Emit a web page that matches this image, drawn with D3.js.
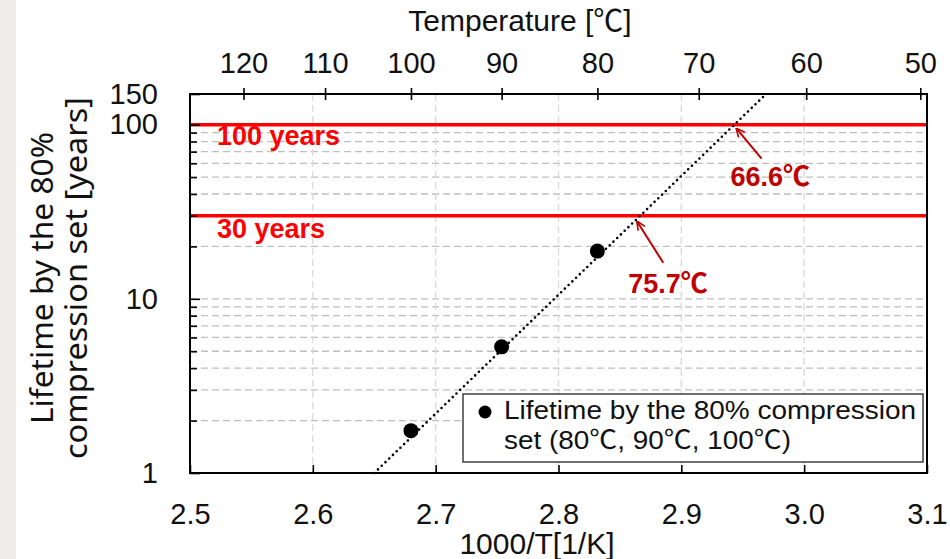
<!DOCTYPE html>
<html><head><meta charset="utf-8">
<script src="https://cdn.jsdelivr.net/npm/d3@7"></script>
<style>body{margin:0;background:#fff} svg{display:block}</style>
</head><body><svg id="c" width="950" height="559"></svg>
<script>
// ---- data ----
const tempTicksC = [120, 110, 100, 90, 80, 70, 60, 50];
const xTicks = [2.5, 2.6, 2.7, 2.8, 2.9, 3.0, 3.1];
const yMajorTicks = [1, 10, 100, 150];
const pointTempsC = [100, 90, 80];
const lifetimeYears = [1.75, 5.3, 18.8];
const fitX = [2.650, 2.969];
const fitYears = [1, 150];
const thresholdYears = [100, 30];
const thresholdLabels = ["100 years", "30 years"];
const crossTempsC = [66.6, 75.7];

const invT = c => 1000 / (c + 273.15);

const svg = d3.select("#c");
const W = 950, H = 559;
const L = 190, R = 927, T = 94, B = 473;
const x = d3.scaleLinear().domain([2.5, 3.1]).range([L, R]);
const y = d3.scaleLog().domain([1, 150]).range([B, T]);

const SANS = "'Liberation Sans', Arial, 'Noto Sans CJK JP', sans-serif";

// left grey band
svg.append("rect").attr("x", 0).attr("y", 0).attr("width", 16).attr("height", H).attr("fill", "#eeede9");

// grid
const minorY = [];
[1, 10].forEach(d => { for (let k = 2; k <= 9; k++) minorY.push(d * k); });
minorY.push(10);
svg.append("g").selectAll("line").data(minorY).join("line")
  .attr("x1", L).attr("x2", R).attr("y1", d => y(d)).attr("y2", d => y(d))
  .attr("stroke", "#bfbfbf").attr("stroke-width", 1.3).attr("stroke-dasharray", "7,4");
svg.append("g").selectAll("line").data(xTicks.slice(1, -1)).join("line")
  .attr("x1", d => x(d)).attr("x2", d => x(d)).attr("y1", T).attr("y2", B)
  .attr("stroke", "#d9d9d9").attr("stroke-width", 1.3).attr("stroke-dasharray", "7,4");

// red threshold lines
svg.append("g").selectAll("line").data(thresholdYears).join("line")
  .attr("x1", L).attr("x2", R).attr("y1", d => y(d)).attr("y2", d => y(d))
  .attr("stroke", "#ff0000").attr("stroke-width", 3.5);
svg.append("g").selectAll("text").data(thresholdYears).join("text")
  .attr("x", 217).attr("y", (d, i) => y(d) + (i === 0 ? 20 : 22))
  .attr("font-family", SANS).attr("font-weight", "bold").attr("font-size", 27)
  .attr("fill", "#ff0000").text((d, i) => thresholdLabels[i]);

// fit line (dotted)
const line = d3.line().x(d => x(d[0])).y(d => y(d[1]));
svg.append("path").datum(fitX.map((v, i) => [v, fitYears[i]]))
  .attr("d", line).attr("fill", "none").attr("stroke", "#000")
  .attr("stroke-width", 2.6).attr("stroke-linecap", "round").attr("stroke-dasharray", "0,5.2");

// points
svg.append("g").selectAll("circle").data(pointTempsC).join("circle")
  .attr("cx", d => x(invT(d))).attr("cy", (d, i) => y(lifetimeYears[i])).attr("r", 7.5).attr("fill", "#000");

// arrows + labels
svg.append("defs").append("marker").attr("id", "ah").attr("viewBox", "0 0 10 10")
  .attr("refX", 9).attr("refY", 5).attr("markerWidth", 9).attr("markerHeight", 9)
  .attr("orient", "auto").attr("markerUnits", "userSpaceOnUse")
  .append("path").attr("d", "M0,0.5 L10,5 L0,9.5").attr("fill", "none").attr("stroke", "#c00000").attr("stroke-width", 1.8);
const arrowOff = [{tip: [2, 4], tail: [27, 34], lab: [-4, 61]}, {tip: [-3, 6], tail: [23, 47], lab: [-12, 77]}];
crossTempsC.forEach((c, i) => {
  const px = x(invT(c)), py = y(thresholdYears[i]);
  const o = arrowOff[i];
  svg.append("line").attr("x1", px + o.tail[0]).attr("y1", py + o.tail[1])
    .attr("x2", px + o.tip[0]).attr("y2", py + o.tip[1])
    .attr("stroke", "#c00000").attr("stroke-width", 2).attr("marker-end", "url(#ah)");
  svg.append("text").attr("x", px + o.lab[0]).attr("y", py + o.lab[1])
    .attr("font-family", SANS).attr("font-weight", "bold").attr("font-size", 27)
    .attr("fill", "#c00000").text(c.toFixed(1) + "℃");
});

// axes
const axFont = g => g.selectAll("text").attr("font-family", SANS).attr("font-size", 29).attr("fill", "#111");
const gx = svg.append("g").attr("transform", `translate(0,${B})`)
  .call(d3.axisBottom(x).tickValues(xTicks).tickFormat(d3.format(".1f")).tickSizeInner(-8).tickSizeOuter(0).tickPadding(30));
gx.call(axFont);
const gy = svg.append("g").attr("transform", `translate(${L},0)`)
  .call(d3.axisLeft(y).tickValues(yMajorTicks).tickFormat(d3.format("d")).tickSizeInner(-10).tickSizeOuter(0).tickPadding(32));
gy.call(axFont);
const gyMinor = svg.append("g").attr("transform", `translate(${L},0)`)
  .call(d3.axisLeft(y).tickValues(minorY.filter(d => d !== 10)).tickFormat("").tickSizeInner(-7).tickSizeOuter(0));
const xTop = d3.scaleLinear().domain(x.domain()).range(x.range());
const gt = svg.append("g").attr("transform", `translate(0,${T})`)
  .call(d3.axisTop(xTop).tickValues(tempTicksC.map(invT)).tickFormat((d, i) => tempTicksC[i]).tickSizeInner(6).tickSizeOuter(0).tickPadding(15));
gt.call(axFont);
gt.selectAll(".tick line").attr("y1", 6);
[gx, gy, gyMinor, gt].forEach(g => {
  g.select(".domain").remove();
  g.selectAll(".tick line").attr("stroke", "#000").attr("stroke-width", 1.6);
});

// frame
svg.append("rect").attr("x", L).attr("y", T).attr("width", R - L).attr("height", B - T)
  .attr("fill", "none").attr("stroke", "#000").attr("stroke-width", 2);

// legend
const lg = svg.append("g");
lg.append("rect").attr("x", 463).attr("y", 394).attr("width", 460).attr("height", 68)
  .attr("fill", "#fff").attr("stroke", "#222").attr("stroke-width", 1.3);
lg.append("circle").attr("cx", 485).attr("cy", 412).attr("r", 6.5).attr("fill", "#000");
lg.append("text").attr("x", 504).attr("y", 419).attr("font-family", SANS).attr("font-size", 26).attr("fill", "#111")
  .attr("textLength", 412).attr("lengthAdjust", "spacingAndGlyphs")
  .text("Lifetime by the 80% compression");
lg.append("text").attr("x", 504).attr("y", 449).attr("font-family", SANS).attr("font-size", 26).attr("fill", "#111")
  .attr("textLength", 287).attr("lengthAdjust", "spacingAndGlyphs")
  .text("set (" + pointTempsC.slice().reverse().map(d => d + "℃").join(", ") + ")");

// titles
svg.append("text").attr("x", 520).attr("y", 31).attr("text-anchor", "middle")
  .attr("font-family", SANS).attr("font-size", 30).attr("fill", "#111").text("Temperature [℃]");
svg.append("text").attr("x", 537).attr("y", 554).attr("text-anchor", "middle")
  .attr("font-family", SANS).attr("font-size", 30).attr("fill", "#111").text("1000/T[1/K]");
const yt = svg.append("text").attr("transform", "translate(0,278) rotate(-90)")
  .attr("text-anchor", "middle").attr("font-family", "'Noto Sans', 'Open Sans', sans-serif").attr("font-size", 30).attr("fill", "#111");
yt.append("tspan").attr("x", 0).attr("y", 53).attr("textLength", 292).attr("lengthAdjust", "spacingAndGlyphs").text("Lifetime by the 80%");
yt.append("tspan").attr("x", 0).attr("y", 87).attr("textLength", 362).attr("lengthAdjust", "spacingAndGlyphs").text("compression set [years]");
</script></body></html>
